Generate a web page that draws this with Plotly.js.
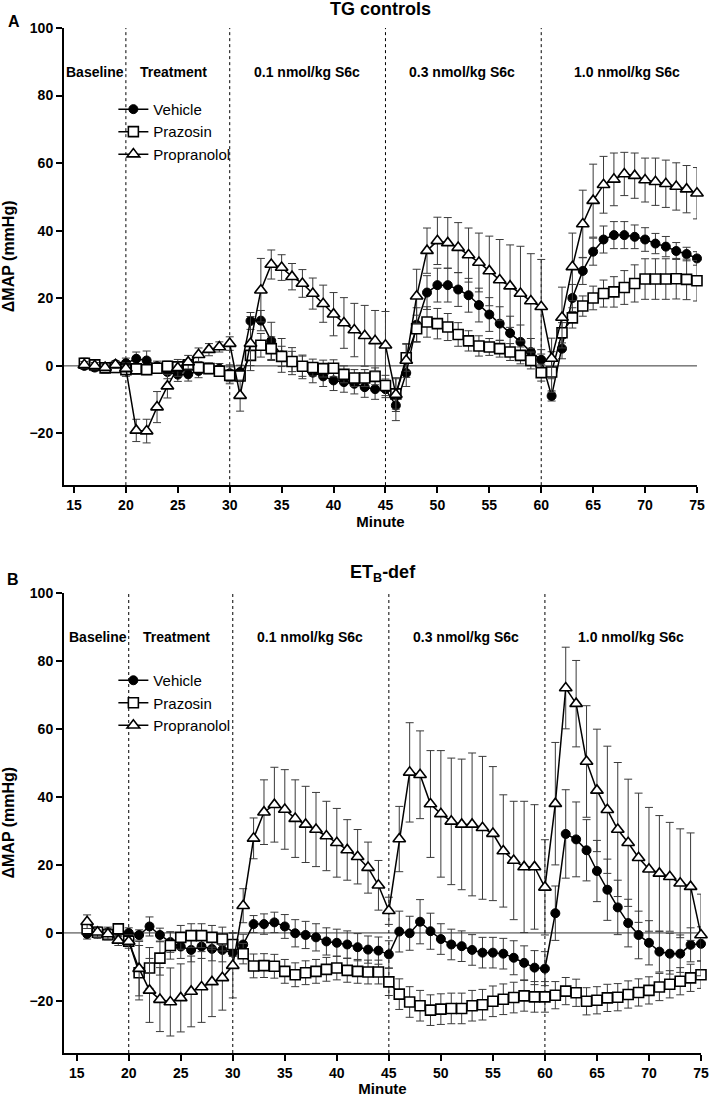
<!DOCTYPE html>
<html>
<head>
<meta charset="utf-8">
<script src="https://cdn.plot.ly/plotly-3.0.1.min.js"></script>
<style>html,body{margin:0;padding:0;background:#fff;}#chart{width:709px;height:1097px;}</style>
</head>
<body>
<div id="chart"></div>
<script>
// ---------- DATA ----------
const minutes = [16,17,18,19,20,21,22,23,24,25,26,27,28,29,30,31,32,33,34,35,36,37,38,39,40,41,42,43,44,45,46,47,48,49,50,51,52,53,54,55,56,57,58,59,60,61,62,63,64,65,66,67,68,69,70,71,72,73,74,75];
const seriesNames = ["Vehicle", "Prazosin", "Propranolol"];
const phaseLabels = ["Baseline", "Treatment", "0.1 nmol/kg S6c", "0.3 nmol/kg S6c", "1.0 nmol/kg S6c"];
const phaseCenters = [17.0, 24.6, 37.4, 52.4, 68.3];
const phaseBoundaries = [20, 30, 45, 60];
const panelTitles = ["TG controls", "ET<sub>B</sub>-def"];
const panelLetters = ["A", "B"];

// Panel A: TG controls
const tgVehicle = [0,-0.5,-0.6,0.5,0.8,2.1,1.6,-0.1,-1.8,-2.6,-2.5,-1.5,-0.6,-0.8,-2.2,-1.8,13.3,13.4,7.4,3.1,1.4,-0.3,-2,-3.1,-4.3,-4.8,-5.3,-6.3,-6.9,-6.9,-11.7,-2.1,12.2,21.7,23.9,23.9,22.6,20.9,18,15.2,12.5,9.7,7.1,4.1,1.8,-8.9,5.1,20.1,28.1,33.8,37.4,38.7,38.7,38.2,37.4,36.2,35.3,34,33.1,31.8];
const tgVehicleErr = [1,1,1,1,1.5,2,2.8,1.5,2,2,2,2,1.5,1.5,2.5,2,2.5,3,5.5,5,4,3.5,3,3,3,3,3,3,3,2.5,4.5,4,5,5,5,5,5,5,5,5,5,5,5,4,3,1.5,3,4,4,4,4,4,4,3.5,3.5,3,3,2.5,2,2];
const tgPrazosin = [0.8,0.3,-0.6,-0.5,-1.1,-0.9,-1.1,-0.7,-0.1,-0.3,0.3,-0.5,-0.8,-1.6,-2.8,-3.0,3.1,6.1,5.1,2.8,1.3,-0.1,-0.5,-0.8,-0.7,-2.5,-3.6,-3.6,-3.1,-5.8,-8.3,2.4,11,13,12.5,11.5,9.3,7.4,5.9,5.6,5.1,4.1,3.1,1.6,-2,-1.8,9.8,14.2,17.7,20.1,21.4,21.9,23.2,24.4,25.7,25.7,25.7,25.8,25.6,25.2];
const tgPrazosinErr = [1.5,1.5,1.5,1.5,2,1.5,1.5,1.5,1.5,1.5,1.5,1.5,1.5,1.5,2.5,1.5,3,3.5,3.5,3,3,3,2.5,2.5,2.5,2.5,2.5,2.5,2.5,3,4.5,4,4,4.5,4.5,4,3.5,3,3,2.5,2.5,2.5,2.5,2.5,2.5,6,3,3,3,3.5,4,4.5,5,5.5,6,6,6,6,6,6];
const tgPropranolol = [0.3,0,-0.5,0.3,-0.8,-19.1,-19.3,-12.2,-6,-0.6,1.1,3.3,4.8,5.6,6.6,-8.8,6.6,22.4,30,29.1,26.4,24.4,21.4,18.4,15.3,12.7,10.6,8.9,7.4,6.1,-8.5,1.6,20.6,34.1,37,36.4,35,32.8,30.6,28.1,25.4,23.6,21.4,19.2,17.5,2.2,14.3,29.3,42,48.9,53.6,55.2,56.8,56.3,55,54.5,53.9,53.1,52.3,51.1];
const tgPropranololErr = [1,1,1,1,1,3.3,3.5,4.6,3.5,2.5,2,2,1.8,1.5,2,4.6,8,9.4,4.3,3.8,3.9,4.1,4.6,5.5,6.4,7.5,7.9,9,9,10,5,5,8,6.7,7,7.5,7.4,8,8.7,10.3,12,12.2,14,14,14,6,9,10,10,10.8,8.4,7.8,6.4,6.7,6.5,7,7,7,7,7.6];

// Panel B: ETB-def
const etVehicle = [-0.3,-0.1,0.2,0.4,0,-0.6,1.9,-0.6,-2.7,-4,-5,-4,-4.7,-5,-5.8,-3.4,2.6,2.6,3.1,1.9,-0.1,-0.6,-1.3,-2.5,-2.9,-3.4,-4.2,-4.9,-5.2,-6.3,0.4,-0.1,3.3,0.5,-1.8,-3.4,-3.9,-5,-5.8,-5.8,-6.1,-7.3,-8.8,-10.2,-10.5,5.8,29.1,27.5,24.3,18.2,12.7,7.5,2.9,-0.6,-2.9,-5.5,-6.1,-6.1,-3.5,-3.2];
const etVehicleErr = [1.5,1.5,1.5,1.5,1.5,1.5,2.8,2,3,3.5,3.5,3.5,3.5,3.5,3.5,3,2.5,3,3,3.5,4,4,4,4,4,4,4,4,4,4,6,5,6.5,5.3,4.5,4.5,4.5,4.5,4.5,4.5,4.5,5,5,5,5,8,13,11,9,9,9,8,7,7,6.5,6,6,5.5,5,5];
const etPrazosin = [1.2,0.2,-0.5,1.2,-2.4,-11.7,-10.3,-7.4,-3.7,-1.3,-0.8,-0.8,-1.3,-1.8,-3.4,-6.1,-9.7,-9.6,-9.8,-11.3,-12.3,-11.7,-11.3,-10.7,-10.3,-11,-11.3,-11.5,-11.5,-14.4,-18,-20.3,-21.4,-22.7,-22.4,-22.2,-22.2,-21.4,-21.1,-20.1,-19.5,-19,-18.5,-18.8,-18.8,-18.3,-17.1,-17.6,-20.1,-19.8,-19.1,-18.9,-18.1,-17.5,-16.9,-15.9,-15.1,-14.2,-13.2,-12.3];
const etPrazosinErr = [1.5,1.5,1.5,1.5,1.5,8,6,5,4,3.5,3.5,3.5,3.5,3.5,3.5,3,3.5,3.5,3.5,3.5,3.5,3.5,3.5,3.5,3.5,3.5,3.5,3.5,3.5,4,4.5,4.5,4.5,4.5,4.5,4.5,4.5,4.5,4.5,4.5,4.5,4.5,4.5,4.5,4.5,4,4,4,4,4,4,4,4,4,4,4,4,4,4,4];
const etPropranolol = [3.3,0.2,-0.3,-2.2,-2.5,-10.5,-16.9,-19.6,-20.3,-19.1,-17.2,-15.9,-14.4,-13.2,-9.6,8,27.8,35.5,37.7,36.3,33.6,31.9,30.4,28.5,26.5,24.4,22.4,19.2,14,6.5,27.6,47.2,46.5,37.9,35,32.8,31.9,31.9,30.9,29.2,24.1,21.3,19.4,19.4,13.4,38,72,67.4,50.4,41.9,36.2,30.4,26.5,22.1,18.7,17.5,16.5,14.6,13.6,-0.6];
const etPropranololErr = [2,1.5,1.5,1.5,2,8,9.4,9.4,10,10,10.4,10.4,10.2,9.5,9.5,5,6,9.5,11,11.7,11.4,11.2,10.9,10.2,10.1,8.9,8,7.5,7.3,4,9.6,14.6,12.9,15.7,18.6,18.6,19.2,21,21,19.7,16.5,17.4,19.3,18.3,14,18,12,12.7,16.4,18,18.7,19.7,18.7,19,18.2,17,16,16,15.8,12];

// ---------- STYLE ----------
const FONT = "Arial, 'Liberation Sans', Helvetica, sans-serif";
const markerStyles = [
  {symbol: "circle", size: 9, color: "black", line: {color: "black", width: 1}},
  {symbol: "square", size: 10, color: "white", line: {color: "black", width: 1.6}},
  {symbol: "triangle-up", size: 11, color: "white", line: {color: "black", width: 1.6}}
];

function makeTrace(name, y, err, mi, xa, ya, legendId) {
  return {
    type: "scatter", mode: "lines+markers", name: name,
    x: minutes, y: y, xaxis: xa, yaxis: ya, legend: legendId,
    line: {color: "black", width: 1.5},
    marker: markerStyles[mi],
    error_y: {type: "data", array: err, visible: true, color: "#3a3a3a", thickness: 1, width: 4},
    cliponaxis: false
  };
}

const panelData = [
  [tgVehicle, tgVehicleErr, tgPrazosin, tgPrazosinErr, tgPropranolol, tgPropranololErr],
  [etVehicle, etVehicleErr, etPrazosin, etPrazosinErr, etPropranolol, etPropranololErr]
];
const traces = [];
panelData.forEach((d, p) => {
  const xa = p === 0 ? "x" : "x2", ya = p === 0 ? "y" : "y2", lg = p === 0 ? "legend" : "legend2";
  for (let s = 0; s < 3; s++) traces.push(makeTrace(seriesNames[s], d[2*s], d[2*s+1], s, xa, ya, lg));
});

const yRange = [-35.3, 100];
const shapes = [];
const annotations = [];
[["x","y"],["x2","y2"]].forEach(([xa, ya], p) => {
  phaseBoundaries.forEach(b => shapes.push({type: "line", xref: xa, yref: ya, x0: b, x1: b, y0: yRange[0], y1: 100, line: {color: "black", width: 1, dash: "dot"}, layer: "below"}));
  shapes.push({type: "line", xref: xa + " domain", yref: ya, x0: 0, x1: 1, y0: 0, y1: 0, line: {color: "#333", width: 1}, layer: "below"});
  phaseLabels.forEach((t, i) => annotations.push({xref: xa, yref: ya, x: phaseCenters[i], y: 87, text: t, showarrow: false, xanchor: "center", yanchor: "middle", font: {family: FONT, size: 14, color: "black", weight: "bold"}}));
});

const domA = [0.554, 1], domB = [0, 0.449];
// titles, letters, y-axis titles
annotations.push({xref: "paper", yref: "paper", x: 0.497, y: 1.0185, text: panelTitles[0], showarrow: false, xanchor: "center", yanchor: "middle", font: {family: FONT, size: 18, color: "black", weight: "bold"}});
annotations.push({xref: "paper", yref: "paper", x: 0.5, y: 0.468, text: panelTitles[1], showarrow: false, xanchor: "center", yanchor: "middle", font: {family: FONT, size: 18, color: "black", weight: "bold"}});
annotations.push({xref: "paper", yref: "paper", x: -0.079, y: 1.0059, text: panelLetters[0], showarrow: false, xanchor: "center", yanchor: "middle", font: {family: FONT, size: 16, color: "black", weight: "bold"}});
annotations.push({xref: "paper", yref: "paper", x: -0.080, y: 0.4624, text: panelLetters[1], showarrow: false, xanchor: "center", yanchor: "middle", font: {family: FONT, size: 16, color: "black", weight: "bold"}});
annotations.push({xref: "paper", yref: "paper", x: -0.087, y: (domA[0]+domA[1])/2, text: "ΔMAP (mmHg)", textangle: -90, showarrow: false, xanchor: "center", yanchor: "middle", font: {family: FONT, size: 16, color: "black", weight: "bold"}});
annotations.push({xref: "paper", yref: "paper", x: -0.087, y: (domB[0]+domB[1])/2, text: "ΔMAP (mmHg)", textangle: -90, showarrow: false, xanchor: "center", yanchor: "middle", font: {family: FONT, size: 16, color: "black", weight: "bold"}});

const tickFont = {family: FONT, size: 14, color: "black", weight: "bold"};
function xAxis(domain, range, anchor) {
  return {domain: domain, range: range, anchor: anchor, tickvals: [15,20,25,30,35,40,45,50,55,60,65,70,75],
    ticks: "outside", ticklen: 6, tickwidth: 2, tickcolor: "black", showline: true, linewidth: 2, linecolor: "black",
    showgrid: false, zeroline: false, tickfont: tickFont,
    title: {text: "Minute", font: {family: FONT, size: 15, color: "black", weight: "bold"}, standoff: 5}};
}
function yAxis(domain, anchor) {
  return {domain: domain, range: yRange, anchor: anchor, tickvals: [-20,0,20,40,60,80,100],
    ticks: "outside", ticklen: 6, tickwidth: 2, tickcolor: "black", showline: true, linewidth: 2, linecolor: "black",
    showgrid: false, zeroline: false, tickfont: tickFont};
}
const legendCommon = {xanchor: "left", yanchor: "top", bgcolor: "rgba(0,0,0,0)", borderwidth: 0,
  font: {family: FONT, size: 15, color: "black"}, tracegroupgap: 0};

const layout = {
  width: 709, height: 1097,
  margin: {l: 64, r: 8, t: 28, b: 44},
  paper_bgcolor: "white", plot_bgcolor: "white",
  showlegend: true,
  xaxis: xAxis([0, 0.9937], [14.04, 75], "y"),
  yaxis: yAxis(domA, "x"),
  xaxis2: xAxis([0, 1], [13.78, 75], "y2"),
  yaxis2: yAxis(domB, "x2"),
  legend: Object.assign({x: 0.0775, y: 0.9367}, legendCommon),
  legend2: Object.assign({x: 0.0775, y: 0.3795}, legendCommon),
  shapes: shapes,
  annotations: annotations
};

Plotly.newPlot("chart", traces, layout, {displayModeBar: false, staticPlot: true});
</script>
</body>
</html>
